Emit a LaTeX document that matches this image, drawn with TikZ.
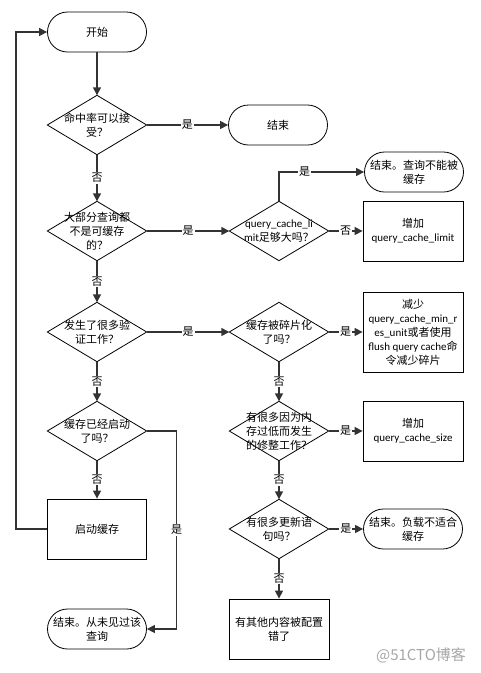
\documentclass[tikz,border=0pt]{standalone}
\usepackage{fontspec}
\setmainfont{Noto Sans CJK SC}
\newfontfamily\latfont{Carlito}
\usepackage{tikz}
\usetikzlibrary{positioning, backgrounds, arrows.meta}
\tikzset{
	terminal/.style={draw, line width=0.8pt, rectangle, rounded corners=20pt, minimum width=99pt, minimum height=40pt, align=center, inner sep=1pt},
	process/.style={draw, line width=0.8pt, rectangle, minimum width=100pt, minimum height=60pt, align=center, inner sep=1pt},
	decision/.style={rectangle, minimum width=99pt, minimum height=59pt, align=center, inner sep=0pt},
	flow/.style={-{Triangle[length=8pt,width=8pt]}, line width=1.4pt, draw=black!80},
	answer/.style={fill=white, inner sep=1pt},
}
\newcommand*{\qc}[1]{{\latfont #1}}

\begin{document}
\begin{tikzpicture}[x=1pt, y=-1pt, every node/.style={font=\fontsize{11}{14}\selectfont}]
\useasboundingbox (0,0) rectangle (480,673);

% left column
\node[terminal] (start) at (97,32) {开始};
\node[decision] (hit) at (97,125) {命中率可以接\\受？};
\node[terminal] (endok) at (278,125) {结束};
\node[decision] (cacheable) at (97,231) {大部分查询都\\不是可缓存\\的？};
\node[decision] (validate) at (97,332) {发生了很多验\\证工作？};
\node[decision] (enabled) at (97,431) {缓存已经启动\\了吗？};
\node[process, minimum width=99pt] (enable) at (97,529) {启动缓存};
\node[terminal] (endnew) at (97,629) {结束。从未见过该\\查询};

% right column
\node[decision] (limit) at (279,231) {\qc{query\_cache\_li}\\\qc{mit}足够大吗？};
\node[terminal] (endnocache) at (414,172) {结束。查询不能被\\缓存};
\node[process] (inclimit) at (413,231) {增加\\\qc{query\_cache\_limit}};
\node[decision] (frag) at (279,332) {缓存被碎片化\\了吗？};
\node[process, minimum height=80pt] (reduce) at (413,332) {减少\\\qc{query\_cache\_min\_r}\\\qc{es\_unit}或者使用\\\qc{flush query cache}命\\令减少碎片};
\node[decision] (prune) at (279,431) {有很多因为内\\存过低而发生\\的修整工作？};
\node[process] (incsize) at (413,431) {增加\\\qc{query\_cache\_size}};
\node[decision] (update) at (279,529) {有很多更新语\\句吗？};
\node[terminal] (endload) at (413,529) {结束。负载不适合\\缓存};
\node[process] (misconf) at (279,629) {有其他内容被配置\\错了};

\node[text=gray!70, font=\fontsize{15}{15}\selectfont] (mark) at (421,655) {@51CTO博客};

\begin{scope}[on background layer]
\foreach \d in {hit,cacheable,validate,enabled,limit,frag,prune,update}
	\draw[line width=0.8pt] (\d.north) -- (\d.east) -- (\d.south) -- (\d.west) -- cycle;
\end{scope}

\draw[flow] (start.south) -- (hit.north);
\draw[flow] (hit.east) -- node[answer]{是} (endok.west);
\draw[flow] (hit.south) -- node[answer]{否} (cacheable.north);
\draw[flow] (cacheable.east) -- node[answer]{是} (limit.west);
\draw[flow] (cacheable.south) -- node[answer]{否} (validate.north);
\draw[flow] (validate.east) -- node[answer]{是} (frag.west);
\draw[flow] (validate.south) -- node[answer]{否} (enabled.north);
\draw[flow] (enabled.south) -- node[answer]{否} (enable.north);
\draw[flow] (enabled.east) -- ++(30,0) |- node[answer, pos=0.25]{是} (endnew.east);
\draw[flow] (enable.west) -- ++(-31,0) |- (start.west);

\draw[flow] (limit.north) |- node[answer, pos=0.65]{是} (endnocache.west);
\draw[flow] (limit.east) -- node[answer]{否} (inclimit.west);
\draw[flow] (frag.east) -- node[answer]{是} (reduce.west);
\draw[flow] (frag.south) -- node[answer]{否} (prune.north);
\draw[flow] (prune.east) -- node[answer]{是} (incsize.west);
\draw[flow] (prune.south) -- node[answer]{否} (update.north);
\draw[flow] (update.east) -- node[answer]{是} (endload.west);
\draw[flow] (update.south) -- node[answer]{否} (misconf.north);

\end{tikzpicture}
\end{document}
